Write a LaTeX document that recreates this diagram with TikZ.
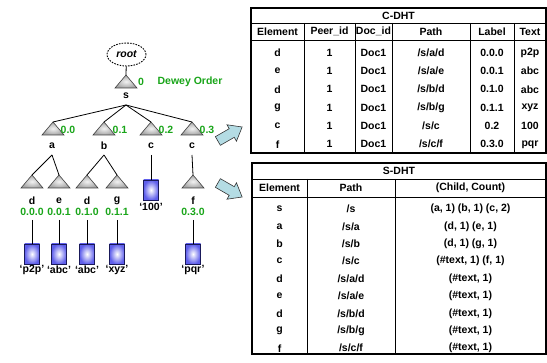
\documentclass[tikz,border=0pt]{standalone}
\usepackage{fontspec}
\setmainfont{Liberation Sans}
\usetikzlibrary{shapes.geometric}
\definecolor{dgreen}{RGB}{25,165,25}
\definecolor{arrfill}{RGB}{180,220,228}
\definecolor{boxblue}{RGB}{95,95,235}
\definecolor{boxline}{RGB}{25,25,90}
\newcommand\ttri[2]{%
  \coordinate (#1) at #2;
  \path[trishape] (#1) -- ++(-11,13) -- ++(22,0) -- cycle;}
\newcommand\crow[8]{%
  \node[cell] (c#1a) at (277.5,#2) {#3};
  \node[cell] (c#1b) at (329.5,#2) {#4};
  \node[cell] (c#1c) at (373.5,#2) {#5};
  \node[cell] (c#1d) at (431,#2) {#6};
  \node[cell] (c#1e) at (492,#2) {#7};
  \node[cell] (c#1f) at (530,#2) {#8};}
\newcommand\srow[5]{%
  \node[cell] (s#1a) at (279.5,#2) {#3};
  \node[cell] (s#1b) at (351,#2) {#4};
  \node[cell] (s#1c) at (470.5,#2) {#5};}
\begin{document}
\begin{tikzpicture}[x=1pt,y=-1pt,
  lbl/.style={font=\bfseries\fontsize{10.5}{12}\selectfont, inner sep=0pt},
  dw/.style={lbl, text=dgreen},
  cell/.style={lbl},
  trishape/.style={draw=black!75, line width=0.6pt, inner color=gray!10, outer color=gray!70},
  leaf/.style={draw=boxline, line width=0.7pt, inner color=white, outer color=boxblue, minimum width=15pt, minimum height=20pt, inner sep=0pt},
  conn/.style={draw=black, line width=0.8pt},
  outer/.style={draw=black, line width=1.2pt},
  inner/.style={draw=black, line width=0.7pt},
  bigarrow/.style={draw=black!80, line width=0.6pt, fill=arrfill}]
\useasboundingbox (0,0) rectangle (547,363);

% ---------------- tree ----------------
\node[draw, ellipse, dash pattern=on 1.6pt off 1.2pt, line width=0.9pt, minimum width=39pt, minimum height=23pt, inner sep=0pt, font=\bfseries\itshape\fontsize{10.5}{12}\selectfont] (root) at (126.5,54.5) {root};
\ttri{ts}{(126,75)}
\draw[conn] (root) -- (ts);
\node[lbl] (ls) at (126,96) {s};
\node[dw] (dws) at (141,82) {0};
\node[dw] (dwo) at (190,82) {Dewey Order};
\coordinate (fs) at (126,105);

\ttri{ta}{(53,122)}
\ttri{tb}{(104,122)}
\ttri{tc1}{(151,122)}
\ttri{tc2}{(192,122)}
\foreach \t in {ta,tb,tc1,tc2} \draw[conn] (fs) -- (\t);
\node[dw] (dwa) at (68,129.5) {0.0};
\node[dw] (dwb) at (120,129.5) {0.1};
\node[dw] (dwc1) at (166,129.5) {0.2};
\node[dw] (dwc2) at (207,129.5) {0.3};
\node[lbl] (la) at (52,146) {a};
\node[lbl] (lb) at (104,146) {b};
\node[lbl] (lc1) at (151,146) {c};
\node[lbl] (lc2) at (192,146) {c};
\coordinate (fa) at (52,155);
\coordinate (fb) at (104,155);
\coordinate (fc1) at (151,155);
\coordinate (fc2) at (192,155);

\ttri{td1}{(32,175)}
\ttri{te}{(59,175)}
\ttri{td2}{(87,175)}
\ttri{tg}{(117,175)}
\ttri{tf}{(193,175)}
\draw[conn] (fa) -- (td1);
\draw[conn] (fa) -- (te);
\draw[conn] (fb) -- (td2);
\draw[conn] (fb) -- (tg);
\draw[conn] (fc2) -- (tf);
\node[leaf] (b100) at (151,190) {};
\draw[conn] (fc1) -- (b100);
\node[lbl] (l100) at (151,207) {‘100’};

\node[lbl] (ld1) at (32,201) {d};
\node[lbl] (le) at (59,201) {e};
\node[lbl] (ld2) at (87,201) {d};
\node[lbl] (lg) at (117,201) {g};
\node[lbl] (lf) at (193,201) {f};
\node[dw] (dwd1) at (32,212) {0.0.0};
\node[dw] (dwe) at (59,212) {0.0.1};
\node[dw] (dwd2) at (87,212) {0.1.0};
\node[dw] (dwg) at (117,212) {0.1.1};
\node[dw] (dwf) at (193,212) {0.3.0};

\foreach \n/\x/\t in {d1/32/p2p, e/59/abc, d2/87/abc, g/117/xyz, f/193/pqr}{
  \coordinate (k\n) at (\x,220);
  \node[leaf] (b\n) at (\x,254) {};
  \draw[conn] (k\n) -- (b\n);
  \node[lbl] (v\n) at (\x,270) {‘\t’};
}

% ---------------- arrows ----------------
\begin{scope}[shift={(230,134)}, rotate=30]
  \path[bigarrow] (-14,-5) -- (2,-5) -- (2,-9.5) -- (14,0) -- (2,9.5) -- (2,5) -- (-14,5) -- cycle;
\end{scope}
\begin{scope}[shift={(230,190)}, rotate=-30]
  \path[bigarrow] (-14,-5) -- (2,-5) -- (2,-9.5) -- (14,0) -- (2,9.5) -- (2,5) -- (-14,5) -- cycle;
\end{scope}

% ---------------- C-DHT ----------------
\draw[inner] (251,23) -- (546,23);
\draw[inner] (251,40) -- (546,40);
\foreach \x in {304,355,392,470,514} \draw[inner] (\x,23) -- (\x,153);
\draw[outer] (251,8) rectangle (546,153);
\node[cell] (ctitle) at (398.5,15.5) {C-DHT};
\crow{0}{31.5}{Element}{Peer\_id}{Doc\_id}{Path}{Label}{Text}
\crow{1}{52.7}{d}{1}{Doc1}{/s/a/d}{0.0.0}{p2p}
\crow{2}{71}{e}{1}{Doc1}{/s/a/e}{0.0.1}{abc}
\crow{3}{89.3}{d}{1}{Doc1}{/s/b/d}{0.1.0}{abc}
\crow{4}{107.6}{g}{1}{Doc1}{/s/b/g}{0.1.1}{xyz}
\crow{5}{126}{c}{1}{Doc1}{/s/c}{0.2}{100}
\crow{6}{144.3}{f}{1}{Doc1}{/s/c/f}{0.3.0}{pqr}

% ---------------- S-DHT ----------------
\draw[inner] (252,179) -- (546,179);
\draw[inner] (252,197) -- (546,197);
\foreach \x in {307,395} \draw[inner] (\x,179) -- (\x,354);
\draw[outer] (252,163) rectangle (546,354);
\node[cell] (stitle) at (399,171) {S-DHT};
\srow{0}{188}{Element}{Path}{(Child, Count)}
\srow{1}{209}{s}{/s}{(a, 1) (b, 1) (c, 2)}
\srow{2}{226.4}{a}{/s/a}{(d, 1) (e, 1)}
\srow{3}{243.8}{b}{/s/b}{(d, 1) (g, 1)}
\srow{4}{261.2}{c}{/s/c}{(\#text, 1) (f, 1)}
\srow{5}{278.6}{d}{/s/a/d}{(\#text, 1)}
\srow{6}{296}{e}{/s/a/e}{(\#text, 1)}
\srow{7}{313.4}{d}{/s/b/d}{(\#text, 1)}
\srow{8}{330.8}{g}{/s/b/g}{(\#text, 1)}
\srow{9}{348.2}{f}{/s/c/f}{(\#text, 1)}
\end{tikzpicture}
\end{document}
